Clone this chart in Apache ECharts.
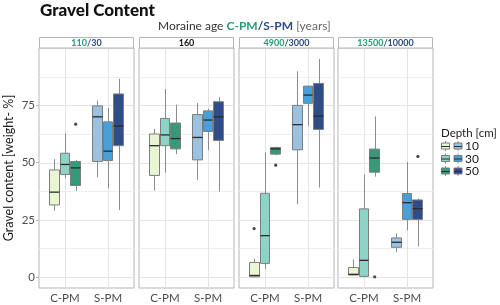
<!DOCTYPE html>
<html><head><meta charset="utf-8">
<script src="https://cdn.jsdelivr.net/npm/echarts@6/dist/echarts.min.js"></script>
<style>html,body{margin:0;padding:0;background:#fff}#c{width:500px;height:305px}</style>
</head><body><div id="c"></div>
<script>
// ---- data ----
const panelAgeCPM = ['110', '160', '4900', '13500'];
const panelAgeSPM = ['30', '', '3000', '10000'];
const categories = ['C-PM', 'S-PM'];
const depths = ['10', '30', '50'];
const yTickValues = [0, 25, 50, 75];
const yGridValues = [0, 12.5, 25, 37.5, 50, 62.5, 75, 87.5];
// box stats [min, q1, median, q3, max] for depth 10, 30, 50
const p1CPM = [[29.0, 31.5, 37.1, 46.8, 51.5], [43.2, 44.8, 49.2, 54.1, 62.9], [37.6, 40.0, 47.7, 50.5, 51.2]];
const p1SPM = [[43.6, 50.5, 70.0, 74.8, 77.1], [38.8, 50.9, 55.0, 67.8, 73.9], [29.3, 57.4, 66.0, 80.0, 86.6]];
const p2CPM = [[37.8, 44.4, 57.4, 62.5, 64.8], [45.7, 57.4, 62.1, 69.3, 82.1], [53.7, 56.0, 60.5, 67.3, 75.3]];
const p2SPM = [[42.5, 51.2, 61.0, 71.0, 76.0], [55.4, 63.6, 68.6, 72.6, 73.5], [37.3, 59.7, 70.0, 76.6, 78.6]];
const p3CPM = [[0.0, 0.1, 0.7, 6.4, 8.0], [3.6, 6.0, 18.1, 36.6, 54.6], [53.2, 53.7, 56.0, 56.6, 57.0]];
const p3SPM = [[31.8, 55.6, 66.6, 75.0, 89.9], [66.1, 75.9, 79.5, 83.4, 83.6], [39.1, 64.5, 70.3, 84.6, 95.3]];
const p4CPM = [[0.9, 0.9, 1.2, 4.2, 7.7], [0.3, 0.3, 7.3, 29.8, 44.8], [43.9, 45.8, 52.0, 55.9, 70.2]];
const p4SPM = [[10.9, 13.0, 15.2, 17.1, 19.1], [20.4, 25.2, 32.5, 36.5, 50.3], [13.4, 25.2, 29.9, 33.7, 34.3]];
// outliers [panel, category, depth, value]
const outliers = [[0, 0, 2, 66.8], [2, 0, 0, 21.2], [2, 0, 2, 48.9], [3, 0, 2, 0.1], [3, 1, 2, 52.7]];

// ---- styling ----
const colorsCPM = ['#eaf5d3', '#8dd4c6', '#35997a'];
const colorsSPM = ['#9cc2e0', '#45a0dc', '#2f4d88'];
const green = '#2a9a72', navy = '#2b4a86';
const FONT = 'Lato';
const panelStats = [[p1CPM, p1SPM], [p2CPM, p2SPM], [p3CPM, p3SPM], [p4CPM, p4SPM]];
const panelLeft = [39, 139, 239, 338];
const panelW = 95, panelTop = 48, panelH = 240;
const yMin = -4.77, yMax = 100.07;
const dodge = 0.25;

const chart = echarts.init(document.getElementById('c'), null, {renderer: 'canvas'});

const grids = [], xAxes = [], yAxes = [], series = [], graphics = [];

function renderGrid(params, api) {
  const cs = params.coordSys;
  const kind = api.value(0), v = api.value(1);
  if (kind === 0) {
    const y = Math.round(api.coord([1, v])[1]) + 0.5;
    return {type: 'line', shape: {x1: cs.x, y1: y, x2: cs.x + cs.width, y2: y},
      style: {stroke: v % 25 === 0 ? '#e4e4e4' : '#efefef', lineWidth: 1}};
  }
  const x = Math.round(api.coord([v, 0])[0]) + 0.5;
  return {type: 'line', shape: {x1: x, y1: cs.y, x2: x, y2: cs.y + cs.height},
    style: {stroke: '#e4e4e4', lineWidth: 1}};
}

function renderBox(params, api) {
  const cat = api.value(0), d = api.value(1);
  const unit = api.size([1, 0])[0];
  const w = unit * dodge;
  const xc = api.coord([cat + 1 + (d - 1) * dodge, 0])[0];
  const yv = [2, 3, 4, 5, 6].map(k => api.coord([1, api.value(k)])[1]);
  const fill = (cat === 0 ? colorsCPM : colorsSPM)[d];
  const x0 = Math.round(xc - w / 2) + 0.5, x1 = Math.round(xc + w / 2) - 0.5;
  const xm = Math.round(xc) + 0.5;
  return {type: 'group', children: [
    {type: 'line', shape: {x1: xm, y1: yv[4], x2: xm, y2: yv[3]}, style: {stroke: '#8c8c8c', lineWidth: 1}},
    {type: 'line', shape: {x1: xm, y1: yv[1], x2: xm, y2: yv[0]}, style: {stroke: '#8c8c8c', lineWidth: 1}},
    {type: 'rect', shape: {x: x0, y: yv[3], width: x1 - x0, height: yv[1] - yv[3]},
      style: {fill: fill, stroke: '#7d7d7d', lineWidth: 1}},
    {type: 'line', shape: {x1: x0, y1: yv[2], x2: x1, y2: yv[2]}, style: {stroke: '#2b2b2b', lineWidth: 1.3}}
  ]};
}

for (let p = 0; p < 4; p++) {
  grids.push({left: panelLeft[p], top: panelTop, width: panelW, height: panelH,
    show: true, borderColor: '#b5b5b5', borderWidth: 1, backgroundColor: '#fff', containLabel: false});
  xAxes.push({gridIndex: p, type: 'value', min: 0.4, max: 2.6,
    axisLine: {show: false}, splitLine: {show: false},
    axisTick: {show: true, length: 3, customValues: [1, 2], lineStyle: {color: '#b5b5b5'}},
    axisLabel: {customValues: [1, 2], formatter: v => categories[Math.round(v) - 1] || '',
      fontFamily: FONT, fontSize: 11.5, color: '#4d4d4d', margin: 4}});
  yAxes.push({gridIndex: p, type: 'value', min: yMin, max: yMax,
    axisLine: {show: false}, splitLine: {show: false},
    axisTick: {show: p === 0, length: 3, customValues: yTickValues, lineStyle: {color: '#b5b5b5'}},
    axisLabel: {show: p === 0, customValues: yTickValues, fontFamily: FONT, fontSize: 11.5, color: '#4d4d4d', margin: 4},
    name: p === 0 ? 'Gravel content [weight- %]' : '', nameLocation: 'middle', nameGap: 24, nameRotate: 90,
    nameTextStyle: {fontFamily: FONT, fontSize: 12.5, color: '#1a1a1a'}});

  const gridData = yGridValues.map(v => [0, v]).concat([1, 2].map(v => [1, v]));
  series.push({type: 'custom', xAxisIndex: p, yAxisIndex: p, z: 1, silent: true,
    renderItem: renderGrid, data: gridData, encode: {x: -1, y: -1}, clip: true});

  const boxData = [];
  panelStats[p].forEach((catStats, c) => catStats.forEach((s, d) => boxData.push([c, d].concat(s))));
  series.push({type: 'custom', xAxisIndex: p, yAxisIndex: p, z: 2,
    renderItem: renderBox, data: boxData, encode: {x: 0, y: 4}, clip: true});

  const outData = outliers.filter(o => o[0] === p).map(o => [o[1] + 1 + (o[2] - 1) * dodge, o[3]]);
  series.push({type: 'scatter', xAxisIndex: p, yAxisIndex: p, z: 3, data: outData,
    symbolSize: 3.2, itemStyle: {color: '#1a1a1a'}});

  // strip
  graphics.push({type: 'rect', shape: {x: panelLeft[p] + 0.5, y: 37.5, width: panelW - 1, height: 10.5},
    style: {fill: '#fff', stroke: '#b5b5b5', lineWidth: 1}, z: 10});
  const txt = panelAgeSPM[p] ? '{c|' + panelAgeCPM[p] + '}{s|/' + panelAgeSPM[p] + '}' : '{k|' + panelAgeCPM[p] + '}';
  graphics.push({type: 'text', x: panelLeft[p] + panelW / 2, y: 43, z: 11,
    style: {text: txt, align: 'center', verticalAlign: 'middle',
      rich: {c: {fill: green, fontFamily: FONT, fontWeight: 'bold', fontSize: 9},
             s: {fill: navy, fontFamily: FONT, fontWeight: 'bold', fontSize: 9},
             k: {fill: '#111', fontFamily: FONT, fontWeight: 'bold', fontSize: 9}}}});
}

// legend (drawn keys)
graphics.push({type: 'text', x: 441, y: 133, style: {text: 'Depth [cm]', fontFamily: FONT, fontSize: 11.5,
  fill: '#1a1a1a', verticalAlign: 'middle'}});
depths.forEach((dep, r) => {
  const cy = 146 + r * 12.5;
  [colorsCPM, colorsSPM].forEach((cols, c) => {
    const x = 441 + c * 12.5;
    graphics.push({type: 'line', shape: {x1: x + 4.5, y1: cy - 5, x2: x + 4.5, y2: cy + 5}, style: {stroke: '#8c8c8c', lineWidth: 1}});
    graphics.push({type: 'rect', shape: {x: x + 0.5, y: cy - 3, width: 8, height: 6},
      style: {fill: cols[r], stroke: '#7d7d7d', lineWidth: 1}});
    graphics.push({type: 'line', shape: {x1: x + 0.5, y1: cy + 0.5, x2: x + 8.5, y2: cy + 0.5}, style: {stroke: '#2b2b2b', lineWidth: 1}});
  });
  graphics.push({type: 'text', x: 465, y: cy + 0.5, style: {text: dep, fontFamily: FONT, fontSize: 12,
    fill: '#1a1a1a', verticalAlign: 'middle'}});
});

chart.setOption({
  animation: false,
  backgroundColor: '#fff',
  title: [
    {text: 'Gravel Content', left: 40, top: 2, padding: 0,
      textStyle: {fontFamily: FONT, fontWeight: 900, fontSize: 17, color: '#111'}},
    {text: '{n|Moraine age }{c|C-PM}{s|/S-PM}{g| [years]}', left: 158, top: 20, padding: 0,
      textStyle: {fontWeight: 'normal', rich: {
        n: {fontFamily: FONT, fontSize: 12, color: '#333', fontWeight: 'normal'},
        c: {fontFamily: FONT, fontSize: 12, color: green, fontWeight: 'bold'},
        s: {fontFamily: FONT, fontSize: 12, color: navy, fontWeight: 'bold'},
        g: {fontFamily: FONT, fontSize: 12, color: '#666', fontWeight: 'normal'}}}}
  ],
  grid: grids, xAxis: xAxes, yAxis: yAxes, series: series, graphic: graphics
});
</script></body></html>
